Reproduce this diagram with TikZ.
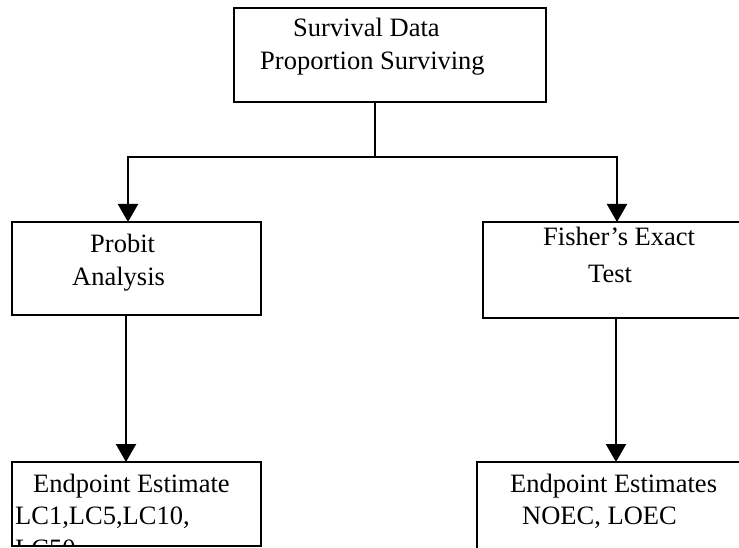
\documentclass[tikz,border=0pt]{standalone}
\usepackage{fontspec}
\setmainfont{Liberation Serif}
\usetikzlibrary{arrows.meta}
\begin{document}
\begin{tikzpicture}[x=1pt,y=-1pt,
  box/.style={draw, line width=2.2pt, inner sep=0pt, outer sep=0pt, anchor=north west},
  txt/.style={inner sep=0pt, anchor=base west, font=\fontsize{26.5}{32}\selectfont},
  conn/.style={line width=2.2pt},
  flow/.style={conn, -{Triangle[length=18pt,width=20pt]}}]
\useasboundingbox (0,0) rectangle (739,548);

% boxes
\node[box, minimum width=312pt, minimum height=94pt] (survival) at (234,8) {};
\node[box, minimum width=249pt, minimum height=93pt] (probit) at (12,222) {};
\node[box, minimum width=300pt, minimum height=96pt] (fisher) at (483,222) {};
\node[box, minimum width=249pt, minimum height=84pt] (estlc) at (12,462) {};
\node[box, minimum width=300pt, minimum height=120pt] (estnoec) at (477,462) {};

% box texts
\node[txt] (survival1) at (293,37) {Survival Data};
\node[txt] (survival2) at (260,70) {Proportion Surviving};
\node[txt] (probit1) at (90,253) {Probit};
\node[txt] (probit2) at (72,285) {Analysis};
\node[txt] (fisher1) at (543,246) {Fisher’s Exact};
\node[txt] (fisher2) at (588,282) {Test};
\node[txt] (estlc1) at (33,492) {Endpoint Estimate};
\node[txt] (estlc2) at (15,524) {LC1,LC5,LC10,};
\begin{scope}
  \clip (13,463) rectangle (260,545);
  \node[txt] (estlc3) at (15,557) {LC50};
\end{scope}
\node[txt] (estnoec1) at (510,492) {Endpoint Estimates};
\node[txt] (estnoec2) at (522,524) {NOEC, LOEC};

% connectors
\coordinate (split) at (375,157);
\coordinate (lcol) at (128,157);
\coordinate (rcol) at (617,157);
\coordinate (lcol2) at (126,0);
\coordinate (rcol2) at (616,0);

\draw[conn] (survival.south -| split) -- (split);
\draw[flow] (split) -| (lcol |- probit.north);
\draw[flow] (split) -| (rcol |- fisher.north);
\draw[flow] (probit.south -| lcol2) -- (estlc.north -| lcol2);
\draw[flow] (fisher.south -| rcol2) -- (estnoec.north -| rcol2);
\end{tikzpicture}
\end{document}
